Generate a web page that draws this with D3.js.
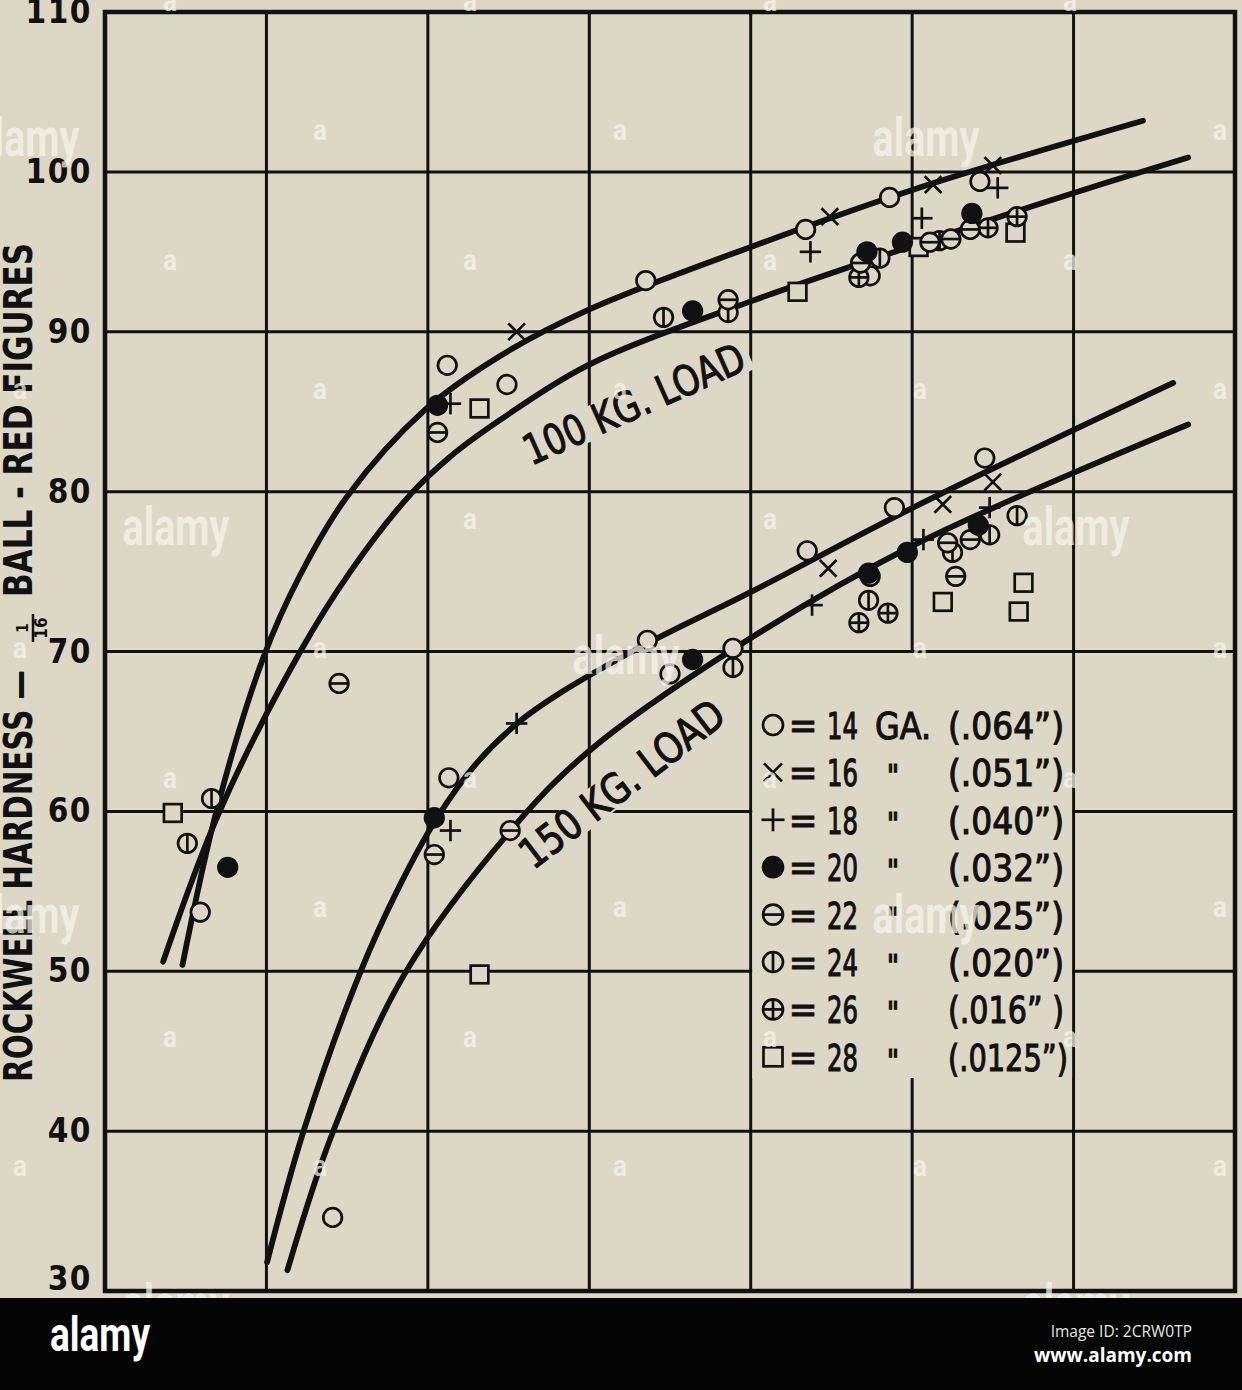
<!DOCTYPE html>
<html><head><meta charset="utf-8">
<script src="https://cdn.jsdelivr.net/npm/d3@7"></script>
<style>body{margin:0;background:#ddd8c5}svg{display:block}</style>
</head><body><svg id="c" width="1242" height="1390"></svg>
<script>
// ---------- data ----------
const yTicks = [30, 40, 50, 60, 70, 80, 90, 100, 110];
const xGridValues = [0, 10, 20, 30, 40, 50, 60, 70];

// fitted curves (x in grid units, y = Rockwell hardness)
const curveUpper100 = [[4.8,50.4],[6.9,60.0],[9.8,69.6],[12.1,74.8],[15.0,79.7],[19.8,85.1],[24.5,88.5],[29.9,91.35],[40.0,95.3],[50.1,98.9],[64.3,103.2]];
const curveLower100 = [[3.6,50.6],[7.1,60.0],[12.1,70.0],[15.2,75.0],[18.9,79.8],[21.4,82.2],[24.5,84.5],[29.9,87.9],[40.0,91.9],[50.1,95.4],[58.5,98.2],[67.1,100.9]];
const curveUpper150 = [[10.04,31.8],[12.27,39.9],[15.8,49.9],[18.28,55.4],[20.57,59.6],[22.92,62.9],[25.53,65.5],[28.19,67.4],[33.58,70.5],[39.96,73.7],[50.06,79.0],[66.17,86.8]];
const curveLower150 = [[11.3,31.3],[14.1,39.9],[18.6,49.9],[25.3,59.0],[29.9,63.7],[39.0,70.2],[50.1,76.65],[67.1,84.2]];

// observed points by gauge
const ga14 = [[5.9,53.7],[14.1,34.6],[21.2,87.9],[24.9,86.7],[33.5,93.2],[43.4,96.4],[47.4,93.5],[48.6,98.4],[54.2,99.4],
              [21.3,62.1],[33.6,70.7],[35.0,68.6],[38.9,70.2],[43.5,76.3],[47.4,74.7],[48.9,79.0],[54.5,82.1]];
const ga16 = [[25.5,90.0],[44.9,97.2],[51.3,99.2],[55.0,100.4],[44.8,75.2],[51.9,79.2],[55.0,80.6]];
const ga18 = [[21.4,85.5],[43.7,95.0],[50.6,97.1],[55.3,99.0],[21.4,58.8],[25.5,65.5],[43.8,72.9],[50.7,77.0],[54.8,79.0]];
const ga20 = [[7.6,56.5],[20.6,85.4],[36.4,91.3],[47.2,95.0],[49.4,95.6],[53.7,97.4],[20.4,59.6],[36.4,69.5],[47.3,74.9],[49.7,76.2],[54.1,77.9]];
const ga22 = [[14.5,68.0],[20.6,83.7],[38.6,92.0],[46.8,94.3],[51.1,95.6],[52.4,95.8],[53.6,96.4],[20.4,57.3],[25.1,58.8],[52.2,76.8],[52.7,74.7],[53.6,77.0]];
const ga24 = [[5.1,58.0],[6.6,60.8],[34.6,90.9],[38.6,91.2],[48.0,94.6],[51.7,95.7],[38.9,69.0],[47.3,73.2],[52.5,76.2],[54.8,77.3],[56.5,78.5]];
const ga26 = [[46.7,93.4],[54.7,96.5],[56.5,97.2],[46.7,71.8],[48.5,72.4]];
const ga28 = [[4.2,59.9],[23.2,85.2],[42.9,92.5],[50.4,95.3],[56.4,96.2],[23.2,49.8],[51.9,73.1],[56.9,74.3],[56.6,72.5]];

const legendSymbols = ["o","x","+","dot","h","v","c","s"];
const legendGauges  = ["14","16","18","20","22","24","26","28"];
const legendUnits   = ["GA.","\"","\"","\"","\"","\"","\"","\""];
const legendInches  = ["(.064\u201D)","(.051\u201D)","(.040\u201D)","(.032\u201D)","(.025\u201D)","(.020\u201D)","(.016\u201D )","(.0125\u201D)"];

// ---------- drawing ----------
const W = 1242, H = 1390, bg = "#ddd8c5", ink = "#111";
const FONT = "'Liberation Sans Narrow','DejaVu Sans Condensed','Roboto Condensed','Liberation Sans',Arial,sans-serif";
const svg = d3.select("#c");
const x = d3.scaleLinear().domain([0,70]).range([105,1235]);
const y = d3.scaleLinear().domain([30,110]).range([1291,12]);

svg.append("rect").attr("width",W).attr("height",H).attr("fill",bg);

// grid
const grid = svg.append("g").attr("stroke",ink).attr("stroke-width",3);
grid.selectAll("line.gx").data(xGridValues).join("line").attr("class","gx")
  .attr("x1",d=>x(d)).attr("x2",d=>x(d)).attr("y1",y(110)).attr("y2",y(30));
grid.selectAll("line.gy").data(yTicks).join("line").attr("class","gy")
  .attr("x1",x(0)).attr("x2",x(70)).attr("y1",d=>y(d)).attr("y2",d=>y(d));
svg.append("rect").attr("x",x(0)).attr("y",y(110)).attr("width",x(70)-x(0)).attr("height",y(30)-y(110))
  .attr("fill","none").attr("stroke",ink).attr("stroke-width",4.5);

// y axis labels
const yAxis = svg.append("g").attr("transform",`translate(${x(0)},0)`)
  .call(d3.axisLeft(y).tickValues(yTicks).tickSize(0).tickPadding(13).tickFormat(d3.format("d")));
yAxis.select(".domain").remove();
yAxis.selectAll("text").attr("font-family",FONT).attr("font-size",33).attr("font-weight","bold").attr("fill",ink)
  .attr("letter-spacing",1.5).attr("dy",d=>d===30?"-0.05em":"0.32em");

// y title
const tg = svg.append("g").attr("transform","translate(32,0) rotate(-90)")
  .attr("font-family",FONT).attr("fill",ink).attr("font-weight","bold");
tg.append("text").attr("x",-1082).attr("y",0).attr("font-size",39)
  .attr("textLength",412).attr("lengthAdjust","spacingAndGlyphs").text("ROCKWELL HARDNESS \u2014");
tg.append("text").attr("x",-628).attr("y",-4).attr("font-size",15).attr("text-anchor","middle").text("1");
tg.append("line").attr("x1",-642).attr("x2",-614).attr("y1",1).attr("y2",1).attr("stroke",ink).attr("stroke-width",2.5);
tg.append("text").attr("x",-628).attr("y",15).attr("font-size",17).attr("text-anchor","middle").text("16");
tg.append("text").attr("x",-597).attr("y",0).attr("font-size",39)
  .attr("textLength",354).attr("lengthAdjust","spacingAndGlyphs").text("BALL - RED FIGURES");

// legend box (covers grid)
const lx0 = x(40)+1.5, lx1 = x(60)-1.5, ly0 = y(70)+1.5, ly1 = 1078;
svg.append("rect").attr("x",lx0).attr("y",ly0).attr("width",lx1-lx0).attr("height",ly1-ly0).attr("fill",bg);

// curve label knock-outs (behind curves, over grid)
function knockout(cx, cy, ang, len){
  svg.append("rect").attr("transform",`translate(${cx},${cy}) rotate(${ang})`)
    .attr("x",-len/2-6).attr("y",-17).attr("width",len+12).attr("height",34).attr("fill",bg);
}
knockout(634, 404, -24, 238);
knockout(622, 784, -37.5, 246);

// curves
const line = d3.line().x(d=>x(d[0])).y(d=>y(d[1])).curve(d3.curveCatmullRom.alpha(0.5));
svg.append("g").selectAll("path").data([curveUpper100,curveLower100,curveUpper150,curveLower150]).join("path")
  .attr("d",line).attr("fill","none").attr("stroke",ink).attr("stroke-width",5.8).attr("stroke-linecap","round");

// markers
function marker(g, type, cx, cy, r){
  const sw = 2.7;
  const m = g.append("g").attr("transform",`translate(${cx},${cy})`).attr("stroke",ink).attr("stroke-width",sw);
  if (type==="x"){
    const a=r*0.9;
    m.append("line").attr("x1",-a).attr("y1",-a).attr("x2",a).attr("y2",a);
    m.append("line").attr("x1",-a).attr("y1",a).attr("x2",a).attr("y2",-a);
  } else if (type==="+"){
    const a=r*1.15;
    m.append("line").attr("x1",-a).attr("x2",a);
    m.append("line").attr("y1",-a).attr("y2",a);
  } else if (type==="s"){
    const a=r*0.95;
    m.append("rect").attr("x",-a).attr("y",-a).attr("width",2*a).attr("height",2*a).attr("fill",bg);
  } else {
    m.append("circle").attr("r",r).attr("fill",type==="dot"?ink:bg);
    if (type==="h"||type==="c") m.append("line").attr("x1",-r).attr("x2",r);
    if (type==="v"||type==="c") m.append("line").attr("y1",-r).attr("y2",r);
  }
}
const series = [["o",ga14],["x",ga16],["+",ga18],["s",ga28],["c",ga26],["v",ga24],["h",ga22],["dot",ga20]];
const mg = svg.append("g");
series.forEach(([t,data])=>data.forEach(d=>marker(mg,t,x(d[0]),y(d[1]),9.3)));

// curve labels
function loadLabel(txt, cx, cy, ang, len){
  svg.append("text").attr("transform",`translate(${cx},${cy}) rotate(${ang})`)
    .attr("text-anchor","middle").attr("dominant-baseline","central")
    .attr("font-family",FONT).attr("font-size",42).attr("fill",ink)
    .attr("stroke",ink).attr("stroke-width",1.1)
    .attr("textLength",len).attr("lengthAdjust","spacingAndGlyphs").text(txt);
}
loadLabel("100 KG. LOAD", 634, 404, -24, 238);
loadLabel("150 KG. LOAD", 622, 784, -37.5, 246);

// legend
const lg = svg.append("g").attr("font-family",FONT).attr("fill",ink).attr("font-size",38)
  .attr("stroke",ink).attr("stroke-width",1.1);
legendSymbols.forEach((s,i)=>{
  const cy = 725 + i*47.4;
  marker(lg, s, 773, cy, 10);
  lg.append("text").attr("x",803).attr("y",cy+13).attr("text-anchor","middle").text("=");
  lg.append("text").attr("x",827).attr("y",cy+14).attr("textLength",31).attr("lengthAdjust","spacingAndGlyphs").text(legendGauges[i]);
  if (i===0) lg.append("text").attr("x",875).attr("y",cy+14).attr("textLength",56).attr("lengthAdjust","spacingAndGlyphs").text(legendUnits[i]);
  else lg.append("text").attr("x",893).attr("y",cy+14).attr("text-anchor","middle").attr("font-size",30).text(legendUnits[i]);
  lg.append("text").attr("x",948).attr("y",cy+14).attr("textLength",i===7?120:116).attr("lengthAdjust","spacingAndGlyphs").text(legendInches[i]);
});

// watermark (clipped above the banner)
svg.append("clipPath").attr("id","wmclip").append("rect").attr("width",W).attr("height",1298);
const logoSpots = [[20,127],[920,127],[170,517],[1070,517],[620,647],[20,907],[920,907],[170,1290],[1070,1290]];
const wm = svg.append("g").attr("clip-path","url(#wmclip)").attr("fill","#f6f4ec").attr("opacity",0.72)
  .attr("font-family","'Liberation Sans Narrow','Roboto','Liberation Sans',sans-serif").attr("font-weight","bold");
for (let r=0;r<11;r++){
  const yy = r*129.5, off = r%2===0?170:20;
  for (let xx=off; xx<W+20; xx+=300){
    const isLogo = logoSpots.some(p=>Math.abs(p[0]-xx)<5 && Math.abs(p[1]-yy)<10);
    if (isLogo){
      wm.append("text").attr("x",xx+6).attr("y",yy+8).attr("text-anchor","middle").attr("dominant-baseline","central")
        .attr("font-size",54).attr("textLength",107).attr("lengthAdjust","spacingAndGlyphs").text("alamy");
    } else if (yy < 1280) {
      wm.append("text").attr("x",xx).attr("y",yy).attr("text-anchor","middle").attr("dominant-baseline","central")
        .attr("font-size",30).attr("textLength",14).attr("lengthAdjust","spacingAndGlyphs").text("a");
    }
  }
}

// bottom banner
svg.append("rect").attr("x",0).attr("y",1298).attr("width",W).attr("height",H-1298).attr("fill","#050505");
svg.append("text").attr("x",50).attr("y",1351).attr("fill","#fff").attr("font-weight","bold")
  .attr("font-family","'Liberation Sans Narrow','Roboto','Liberation Sans',sans-serif").attr("font-size",48)
  .attr("textLength",100).attr("lengthAdjust","spacingAndGlyphs").text("alamy");
svg.append("text").attr("x",1192).attr("y",1337).attr("text-anchor","end").attr("fill","#e6e6e6")
  .attr("font-family","'Open Sans',sans-serif").attr("font-size",15.5).text("Image ID: 2CRW0TP");
svg.append("text").attr("x",1192).attr("y",1362).attr("text-anchor","end").attr("fill","#fff").attr("font-weight","bold")
  .attr("font-family","'Open Sans',sans-serif").attr("font-size",19).text("www.alamy.com");
</script></body></html>
